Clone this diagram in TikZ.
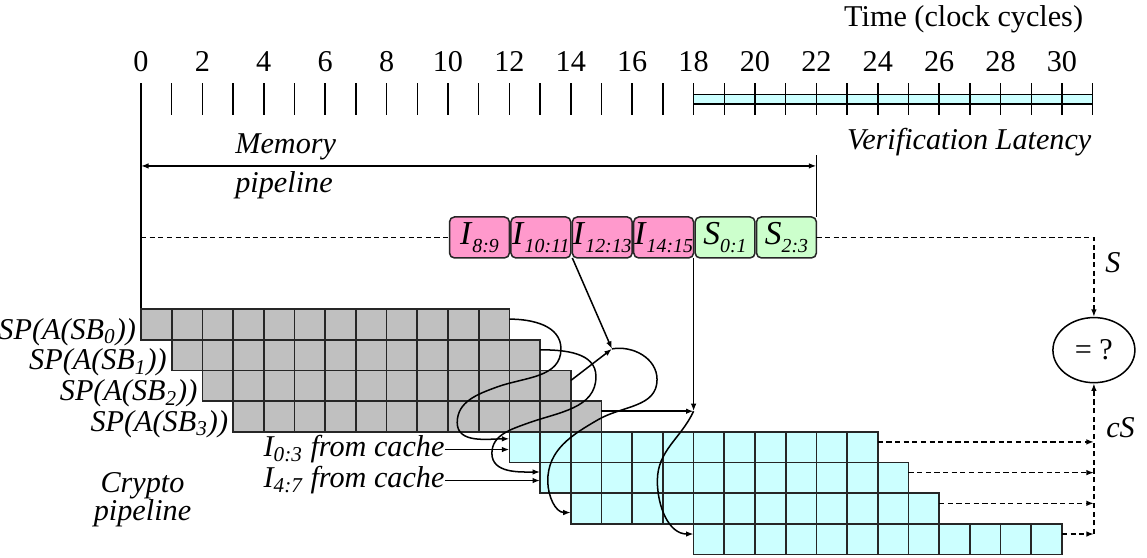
\documentclass[tikz,border=0pt]{standalone}
\usepackage{fontspec}
\setmainfont{Liberation Serif}
\usetikzlibrary{arrows.meta,positioning,calc,shapes.geometric}

\definecolor{memgray}{HTML}{C0C0C0}
\definecolor{cryptocyan}{HTML}{CCFFFF}
\definecolor{ivpink}{HTML}{FF99CC}
\definecolor{sigmint}{HTML}{CCFFCC}

\newcommand{\blk}[2]{\textit{#1\textsubscript{#2}}}
\newcommand{\boxlbl}[2]{\textit{#1}\raisebox{-0.5ex}{\fontsize{9.2}{10}\selectfont\textit{#2}}}

\tikzset{
  cell/.style = {draw=black!85, line width=0.8pt},
  conn/.style = {line width=0.7pt},
  sigline/.style = {conn, dash pattern=on 2.4pt off 1.6pt},
  blockbox/.style = {draw=black!85, line width=0.7pt, rounded corners=2.3pt,
    minimum width=0.975cm, minimum height=0.668cm, inner sep=0pt, outer sep=0pt,
    font=\fontsize{15.5}{18}\selectfont},
}

\begin{document}
\begin{tikzpicture}[x=0.5cm, y=0.5cm, font=\fontsize{14}{13}\selectfont,
    >={Latex[length=3.5pt,width=2.6pt]}, every node/.style={inner sep=0pt}]
    \useasboundingbox (-4.593,-8.11) rectangle (32.77,10.065);

    \node[anchor=base east] (time) at (30.7,9.19) {Time (clock cycles)};
    \foreach \t in {0,2,...,30}
      \node[anchor=base] (t\t) at (\t,7.72) {\t};
    \filldraw[conn, fill=cryptocyan] (18,6.68) rectangle (31,6.99);
    \foreach \t in {1,...,31}
      \draw[conn] (\t,7.36) -- (\t,6.32);
    \draw[conn] (0,7.36) -- (0,0);

    \coordinate (mpl) at (0,4.66);
    \coordinate (mpr) at (22,4.66);
    \draw[conn, <->] (mpl) -- (mpr);
    \node[anchor=base west] (mem) at (3.06,5.08) {\textit{Memory}};
    \node[anchor=base west] (mempipe) at (3.06,3.81) {\textit{pipeline}};
    \node[anchor=base east] (verlat) at (30.97,5.18) {\textit{Verification Latency}};

    \node[blockbox, fill=ivpink] (i89) at (11.025,2.33) {\boxlbl{I}{8:9}};
    \node[blockbox, fill=ivpink, right=0.025cm of i89] (i1011) {\boxlbl{I}{10:11}};
    \node[blockbox, fill=ivpink, right=0.025cm of i1011] (i1213) {\boxlbl{I}{12:13}};
    \node[blockbox, fill=ivpink, right=0.025cm of i1213] (i1415) {\boxlbl{I}{14:15}};
    \node[blockbox, fill=sigmint, right=0.025cm of i1415] (s01) {\boxlbl{S}{0:1}};
    \node[blockbox, fill=sigmint, right=0.025cm of s01] (s23) {\boxlbl{S}{2:3}};
    \draw[conn] (s23.north east) -- ++(0,2.02);

    \node[ellipse, draw, conn, minimum width=1.335cm, minimum height=1.06cm] (cmp) at (31.04,-1.34) {= ?};
    \coordinate (sigstart) at (0,2.33);
    \draw[sigline] (sigstart) -- (i89.west);
    \draw[sigline, ->] (s23.east) -| (cmp.north);
    \node[anchor=base west] (slab) at (31.4,1.2) {\textit{S}};
    \node[anchor=base west] (cslab) at (31.43,-4.17) {\textit{cS}};

    \foreach \r in {0,...,3} {
      \foreach \c in {0,...,11}
        \draw[cell, fill=memgray] (\r+\c,-\r) rectangle ++(1,-1);
      \node[anchor=base east] (sp\r) at (\r-0.15,-\r-0.98) {\textit{SP(A(SB\textsubscript{\r}))}};
      \coordinate (g\r) at (\r+12,-\r-0.33);
    }
    \foreach \r/\s in {0/12,1/13,2/14,3/18} {
      \foreach \c in {0,...,11}
        \draw[cell, fill=cryptocyan] (\s+\c,-4-\r) rectangle ++(1,-1);
      \coordinate (c\r) at (\s,-4-\r);
      \coordinate (cout\r) at (\s+12,-4.33-\r);
      \draw[sigline, ->] (cout\r) -- (cout\r -| cmp);
    }
    \draw[sigline, ->] (cout3 -| cmp) -- (cmp.south);

    \node[anchor=base east] (cache03) at (9.9,-4.82) {\blk{I}{0:3} \textit{from cache}};
    \node[anchor=base east] (cache47) at (9.9,-5.83) {\blk{I}{4:7} \textit{from cache}};
    \draw[conn, ->] (cache03.east) -- (cache03.east -| c0);
    \draw[conn, ->] (cache47.east) -- (cache47.east -| c1);
    \node[align=center, font=\fontsize{14}{13}\selectfont\itshape] (crypto) at (0.05,-6.2) {Crypto\\pipeline};

    \coordinate (cin0) at ($(c0)+(0,-0.23)$);
    \coordinate (cin1) at ($(c1)+(0,-0.31)$);
    \coordinate (cin2) at ($(c2)+(0,-0.63)$);
    \coordinate (cin3) at ($(c3)+(0,-0.33)$);
    \coordinate (j1) at (15.34,-1.3);
    \coordinate (j2) at (i1415.south east |- g3);

    \draw[conn, ->] (i1213.south west) -- (j1);
    \draw[conn, ->] (g2) -- (j1);
    \draw[conn, ->] (i1415.south east) -- (j2);
    \draw[conn, ->] (g3) -- (j2);
    \draw[conn, ->] (g0) to[out=0,in=90] (13.68,-1.3) to[out=-90,in=20] (11.6,-2.54)
      to[out=200,in=90] (10.3,-3.7) to[out=-90,in=180] (cin0);
    \draw[conn, ->] (g1) to[out=0,in=90] (14.82,-2.2) to[out=-90,in=20] (12.6,-3.72)
      to[out=200,in=90] (11.43,-4.7) to[out=-90,in=180] (cin1);
    \draw[conn, ->] (j1) to[out=10,in=90] (16.81,-2.3) to[out=-90,in=30] (14.9,-3.6)
      to[out=210,in=90] (13.25,-5.6) to[out=-90,in=180] (cin2);
    \draw[conn, ->] (j2) to[out=245,in=90] (16.82,-5.6) to[out=-90,in=180] (cin3);
\end{tikzpicture}
\end{document}
